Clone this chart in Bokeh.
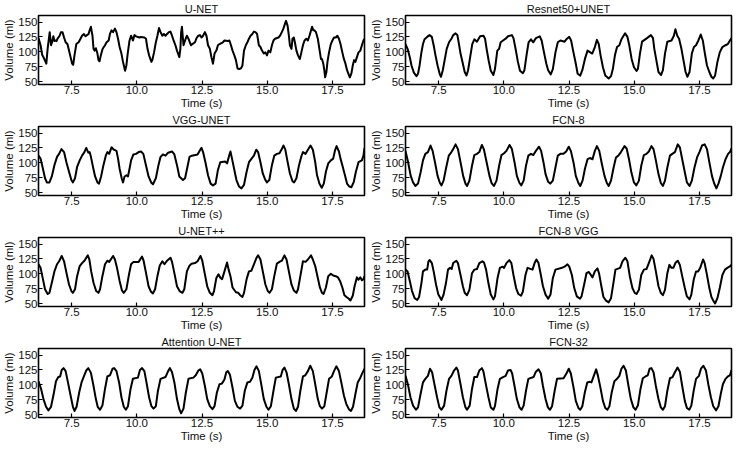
from bokeh.plotting import figure
from bokeh.layouts import gridplot
from bokeh.models import Range1d, FixedTicker, PrintfTickFormatter
from bokeh.embed import file_html
from bokeh.resources import INLINE

# ---------------- data ----------------
titles = ["U-NET", "Resnet50+UNET", "VGG-UNET", "FCN-8",
          "U-NET++", "FCN-8 VGG", "Attention U-NET", "FCN-32"]

x_ticks = [7.5, 10.0, 12.5, 15.0, 17.5]
y_ticks = [50, 75, 100, 125, 150]

unet_t = [6.23,6.31,6.37,6.43,6.50,6.53,6.58,6.66,6.71,6.75,6.80,6.84,6.89,6.92,6.96,7.04,7.09,7.15,7.21,7.27,
          7.34,7.40,7.46,7.52,7.56,7.61,7.68,7.77,7.84,7.90,7.97,8.03,8.09,8.15,8.19,8.24,8.30,8.34,8.38,8.43,
          8.49,8.53,8.57,8.62,8.69,8.78,8.84,8.92,8.97,9.03,9.09,9.16,9.22,9.28,9.34,9.41,9.47,9.55,9.60,9.65,
          9.72,9.78,9.85,9.91,9.97,10.10,10.16,10.29,10.35,10.41,10.47,10.56,10.60,10.66,10.73,10.79,10.85,10.91,10.98,11.04,
          11.10,11.16,11.23,11.29,11.35,11.41,11.48,11.54,11.63,11.67,11.70,11.73,11.79,11.85,11.92,11.98,12.03,12.08,12.13,12.23,
          12.29,12.36,12.42,12.48,12.54,12.61,12.67,12.73,12.80,12.86,12.92,12.98,13.05,13.11,13.17,13.30,13.36,13.49,13.55,13.61,
          13.67,13.74,13.80,13.86,13.93,13.99,14.05,14.11,14.18,14.24,14.30,14.36,14.43,14.49,14.55,14.61,14.68,14.74,14.80,14.87,
          14.93,14.99,15.05,15.12,15.18,15.24,15.30,15.43,15.49,15.56,15.62,15.68,15.72,15.78,15.83,15.87,15.93,15.97,16.02,16.06,
          16.12,16.18,16.25,16.31,16.37,16.43,16.50,16.56,16.62,16.68,16.72,16.77,16.81,16.87,16.94,17.00,17.06,17.10,17.15,17.19,
          17.22,17.27,17.31,17.37,17.44,17.50,17.56,17.63,17.69,17.75,17.81,17.88,17.94,18.00,18.06,18.13,18.17,18.23,18.28,18.33,
          18.38,18.44,18.50,18.57,18.63,18.69,18.73]
unet_v = [123,111,95,90,83,80,105,133,111,116,126,118,119,118,122,127,133,133,124,116,
          113,102,91,80,78,94,113,116,122,127,130,126,128,130,136,142,127,105,102,106,
          97,86,84,94,105,111,116,119,130,136,133,139,133,122,108,97,83,68,77,97,
          119,127,119,128,126,124,125,124,122,105,94,83,87,99,116,127,140,133,127,130,
          127,130,133,134,127,119,111,102,91,105,133,142,111,119,127,122,116,111,113,116,
          123,127,128,124,127,133,127,111,105,91,80,97,102,111,113,116,119,118,119,111,
          102,94,86,72,71,72,77,102,111,116,122,127,130,134,133,130,111,108,102,97,
          99,94,102,99,111,119,122,124,127,133,139,147,152,144,127,111,105,122,124,116,
          102,94,88,99,111,119,122,119,127,136,142,136,136,133,122,105,88,88,80,69,
          57,66,83,99,113,119,124,124,127,122,113,99,88,80,69,61,57,64,77,86,
          83,91,99,102,111,119,122]

resnet_t = [6.23,6.31,6.40,6.46,6.55,6.65,6.71,6.77,6.84,6.90,6.96,7.06,7.15,7.24,7.31,7.38,7.46,7.54,7.59,7.66,
            7.74,7.81,7.90,7.99,8.06,8.15,8.22,8.28,8.34,8.43,8.50,8.57,8.63,8.72,8.79,8.87,8.97,9.09,9.22,9.28,
            9.34,9.42,9.50,9.60,9.66,9.75,9.82,9.88,9.97,10.07,10.16,10.31,10.37,10.45,10.54,10.62,10.73,10.79,10.88,10.95,
            11.04,11.13,11.23,11.38,11.45,11.54,11.63,11.70,11.80,11.88,11.98,12.07,12.17,12.33,12.42,12.51,12.58,12.67,12.76,12.83,
            12.93,13.01,13.11,13.21,13.39,13.49,13.57,13.64,13.71,13.80,13.89,14.02,14.11,14.18,14.26,14.34,14.43,14.51,14.65,14.74,
            14.81,14.90,14.99,15.09,15.14,15.22,15.30,15.49,15.64,15.72,15.77,15.86,15.93,16.03,16.10,16.18,16.27,16.43,16.52,16.58,
            16.65,16.72,16.81,16.90,16.97,17.04,17.12,17.21,17.29,17.37,17.46,17.55,17.63,17.71,17.79,17.88,17.96,18.03,18.10,18.19,
            18.28,18.38,18.50,18.59,18.67,18.73]
resnet_v = [113,105,90,77,65,59,63,77,99,113,121,125,128,125,111,94,77,63,58,69,
            88,105,116,122,128,131,128,113,97,80,66,60,69,94,113,121,117,126,127,122,
            105,85,68,61,71,102,105,116,119,122,126,128,123,105,83,68,64,69,97,116,
            121,116,123,126,119,99,80,69,62,71,99,116,119,117,122,125,119,99,80,63,
            60,69,88,102,97,108,120,113,94,74,60,55,59,71,94,108,111,121,131,125,
            111,88,74,68,71,97,117,123,128,123,105,83,66,61,69,97,117,119,127,138,
            127,122,105,83,66,58,66,97,108,111,119,129,119,97,77,66,58,55,60,83,
            99,108,111,113,119,123]

vgg_t = [6.23,6.31,6.40,6.48,6.55,6.65,6.74,6.84,6.94,7.02,7.11,7.21,7.30,7.40,7.49,7.55,7.63,7.71,7.81,7.90,
         7.99,8.06,8.14,8.19,8.24,8.32,8.40,8.49,8.55,8.63,8.72,8.81,8.87,8.94,9.03,9.12,9.22,9.28,9.34,9.42,
         9.47,9.53,9.60,9.66,9.72,9.78,9.87,9.97,10.07,10.16,10.25,10.35,10.45,10.55,10.62,10.73,10.83,10.91,11.00,11.10,
         11.20,11.35,11.44,11.54,11.63,11.70,11.77,11.85,11.94,12.02,12.11,12.33,12.42,12.48,12.54,12.63,12.73,12.83,12.92,13.02,
         13.11,13.20,13.39,13.46,13.54,13.59,13.65,13.74,13.82,13.92,14.01,14.11,14.21,14.30,14.40,14.49,14.58,14.65,14.74,14.83,
         14.93,14.99,15.08,15.18,15.27,15.37,15.47,15.56,15.62,15.69,15.77,15.87,15.97,16.03,16.12,16.22,16.31,16.37,16.47,16.56,
         16.66,16.75,16.84,16.91,17.00,17.09,17.17,17.25,17.34,17.44,17.53,17.60,17.66,17.75,17.81,17.88,17.98,18.06,18.15,18.23,
         18.32,18.40,18.50,18.63,18.69,18.73]
vgg_v = [112,107,90,74,67,67,77,96,110,115,123,118,101,85,71,67,74,93,104,112,
         118,125,117,118,110,93,77,67,65,77,96,112,118,115,126,122,120,107,90,74,
         67,77,79,77,90,104,114,115,118,119,115,96,77,67,64,74,96,110,114,112,
         117,119,114,96,77,74,71,74,93,110,112,114,121,125,118,101,79,65,62,65,
         88,101,102,99,112,119,107,88,71,60,57,63,85,101,107,112,122,118,101,82,
         71,67,71,96,112,115,116,123,129,123,104,82,69,67,74,96,111,118,115,122,
         129,122,101,79,65,58,65,85,99,104,107,121,128,119,107,96,79,65,60,59,
         68,85,101,104,112,125]

fcn8_t = [6.23,6.33,6.43,6.52,6.61,6.71,6.81,6.90,6.99,7.09,7.19,7.27,7.36,7.46,7.55,7.61,7.69,7.79,7.89,7.99,
          8.06,8.15,8.24,8.34,8.44,8.53,8.59,8.68,8.78,8.87,8.97,9.06,9.16,9.24,9.34,9.45,9.53,9.62,9.72,9.82,
          9.91,10.01,10.10,10.22,10.31,10.41,10.50,10.60,10.67,10.76,10.85,10.94,11.04,11.13,11.23,11.35,11.43,11.52,11.60,11.70,
          11.78,11.88,11.98,12.07,12.17,12.29,12.39,12.49,12.57,12.67,12.76,12.86,12.93,13.02,13.11,13.21,13.30,13.40,13.49,13.57,
          13.66,13.76,13.86,13.95,14.02,14.11,14.21,14.30,14.39,14.49,14.63,14.71,14.80,14.89,14.99,15.08,15.18,15.27,15.37,15.47,
          15.56,15.66,15.74,15.83,15.93,16.02,16.10,16.18,16.27,16.37,16.46,16.56,16.67,16.75,16.84,16.94,17.02,17.12,17.21,17.31,
          17.41,17.50,17.60,17.70,17.79,17.88,17.98,18.06,18.15,18.23,18.32,18.40,18.50,18.60,18.67,18.73]
fcn8_v = [120,101,78,67,61,65,84,104,115,118,129,120,101,78,66,62,70,92,112,118,
          123,131,123,101,78,65,61,70,95,113,115,118,130,122,101,78,66,61,70,95,
          113,116,120,130,123,101,78,66,62,70,95,112,115,113,120,127,120,101,81,68,
          65,70,92,112,115,115,119,127,120,101,78,66,61,70,90,106,108,106,120,128,
          120,98,78,66,61,70,92,109,112,118,128,124,106,84,67,62,70,95,113,115,
          119,128,123,104,81,66,61,70,92,112,115,118,131,126,106,84,67,61,70,92,
          109,118,129,131,123,101,78,66,57,65,78,92,106,115,118,124]

unetpp_t = [6.23,6.31,6.40,6.48,6.58,6.65,6.74,6.84,6.94,7.02,7.12,7.21,7.30,7.40,7.49,7.55,7.63,7.71,7.81,7.90,
            7.99,8.12,8.18,8.25,8.34,8.44,8.53,8.59,8.68,8.78,8.87,8.94,9.09,9.16,9.24,9.34,9.43,9.50,9.60,9.70,
            9.78,9.87,10.07,10.20,10.26,10.35,10.45,10.54,10.62,10.70,10.79,10.88,10.98,11.06,11.16,11.29,11.35,11.45,11.54,11.64,
            11.75,11.82,11.92,12.01,12.10,12.23,12.33,12.44,12.51,12.61,12.70,12.80,12.90,12.96,13.05,13.13,13.21,13.27,13.36,13.46,
            13.52,13.59,13.67,13.80,13.89,13.96,14.05,14.11,14.21,14.30,14.39,14.49,14.58,14.65,14.74,14.83,14.93,15.02,15.09,15.18,
            15.27,15.37,15.47,15.56,15.66,15.74,15.83,15.93,16.02,16.12,16.18,16.27,16.37,16.47,16.56,16.68,16.75,16.84,16.94,17.02,
            17.10,17.16,17.25,17.34,17.44,17.53,17.63,17.71,17.79,17.88,17.96,18.04,18.13,18.19,18.28,18.35,18.44,18.50,18.57,18.63,
            18.69,18.73]
unetpp_v = [116,110,91,74,66,68,85,104,116,121,130,121,102,82,71,68,74,96,113,118,
            122,131,124,104,85,71,68,74,96,116,122,120,130,124,110,88,72,68,74,99,
            116,120,120,129,122,102,79,70,67,74,96,114,121,116,122,127,120,99,79,71,
            68,74,104,113,117,118,121,130,122,99,79,68,64,71,93,99,93,91,104,119,
            107,96,77,69,68,64,61,68,91,104,105,116,126,131,124,104,82,71,68,74,
            96,117,120,122,131,124,104,82,72,68,74,96,121,120,124,131,124,113,93,77,
            68,66,77,96,100,97,96,94,88,77,64,61,58,55,63,79,94,90,94,89,
            91,96]

fcn8vgg_t = [6.23,6.31,6.40,6.48,6.58,6.68,6.75,6.84,6.90,6.99,7.06,7.11,7.16,7.24,7.31,7.40,7.49,7.61,7.69,7.78,
             7.86,7.94,8.00,8.06,8.18,8.24,8.34,8.43,8.50,8.59,8.68,8.78,8.87,8.97,9.06,9.18,9.24,9.32,9.41,9.50,
             9.60,9.66,9.76,9.85,9.95,10.01,10.10,10.21,10.29,10.37,10.47,10.56,10.66,10.73,10.83,10.91,11.10,11.18,11.25,11.33,
             11.42,11.50,11.60,11.70,11.79,11.88,11.98,12.23,12.33,12.44,12.51,12.61,12.70,12.80,12.92,12.98,13.08,13.17,13.26,13.40,
             13.49,13.59,13.65,13.74,13.82,13.92,14.02,14.11,14.20,14.28,14.46,14.55,14.66,14.74,14.83,14.93,15.02,15.09,15.18,15.27,
             15.37,15.47,15.56,15.67,15.74,15.83,15.93,16.02,16.10,16.18,16.27,16.35,16.43,16.50,16.59,16.67,16.75,16.84,16.94,17.02,
             17.12,17.19,17.28,17.37,17.45,17.53,17.64,17.70,17.79,17.88,17.96,18.04,18.10,18.19,18.28,18.38,18.48,18.57,18.65,18.73]
fcn8vgg_v = [107,104,87,71,59,56,61,84,104,107,107,121,123,118,104,82,65,56,65,84,
             107,110,108,118,122,118,98,79,68,64,73,101,107,108,118,121,119,107,84,65,
             57,62,93,110,112,110,118,123,118,98,76,66,63,70,98,110,107,118,124,118,
             98,79,65,58,65,93,107,110,112,116,112,98,76,62,58,62,82,101,103,94,
             104,109,101,79,61,55,52,59,84,107,110,121,127,121,96,76,68,66,73,98,
             107,108,118,131,125,104,79,68,64,73,101,115,110,110,119,122,115,96,76,62,
             57,65,90,104,104,110,124,118,98,76,61,54,50,59,76,98,107,110,112,115]

att_t = [6.23,6.33,6.42,6.52,6.61,6.71,6.81,6.90,6.99,7.06,7.12,7.19,7.27,7.36,7.46,7.55,7.61,7.69,7.79,7.88,
         7.97,8.06,8.14,8.24,8.34,8.43,8.50,8.59,8.68,8.78,8.87,8.97,9.07,9.13,9.22,9.32,9.41,9.50,9.58,9.66,
         9.76,9.85,10.04,10.12,10.20,10.29,10.37,10.47,10.56,10.64,10.73,10.81,10.91,11.10,11.20,11.27,11.35,11.44,11.54,11.63,
         11.70,11.79,11.88,11.98,12.17,12.26,12.36,12.43,12.51,12.61,12.70,12.80,12.90,12.98,13.07,13.17,13.26,13.36,13.43,13.49,
         13.57,13.67,13.76,13.86,13.96,14.05,14.14,14.24,14.34,14.43,14.51,14.59,14.68,14.77,14.87,14.97,15.05,15.14,15.24,15.33,
         15.52,15.59,15.66,15.74,15.83,15.93,16.02,16.10,16.18,16.27,16.37,16.46,16.56,16.65,16.75,16.84,16.94,17.02,17.10,17.19,
         17.28,17.37,17.48,17.56,17.65,17.75,17.84,17.94,18.03,18.13,18.21,18.29,18.38,18.47,18.57,18.65,18.73]
att_v = [106,93,76,63,57,63,84,106,113,114,125,128,123,104,82,63,56,63,87,104,
         114,124,128,120,98,76,63,58,65,93,114,116,127,128,123,104,79,63,58,64,
         93,110,112,125,128,123,104,79,64,60,64,90,110,113,123,128,121,104,76,59,
         52,60,87,110,112,116,124,126,119,98,76,64,59,64,87,101,102,109,121,123,
         117,95,73,63,60,65,90,104,105,112,125,131,123,101,76,63,58,64,90,112,
         114,125,129,121,101,76,60,56,63,90,114,116,123,132,123,101,76,64,60,64,
         87,110,114,123,131,123,104,82,68,59,56,63,84,104,112,120,127]

fcn32_t = [6.23,6.33,6.42,6.52,6.63,6.71,6.81,6.90,6.99,7.09,7.17,7.25,7.34,7.44,7.53,7.61,7.71,7.80,7.90,7.99,
           8.09,8.18,8.24,8.34,8.43,8.53,8.59,8.69,8.78,8.87,8.97,9.06,9.16,9.22,9.31,9.41,9.50,9.60,9.66,9.76,
           9.85,9.97,10.07,10.16,10.26,10.32,10.41,10.50,10.60,10.68,10.76,10.85,10.94,11.14,11.23,11.33,11.42,11.50,11.60,11.69,
           11.77,11.85,11.95,12.04,12.29,12.39,12.49,12.57,12.67,12.76,12.86,12.93,13.01,13.11,13.20,13.30,13.36,13.45,13.54,13.61,
           13.70,13.80,13.89,13.97,14.05,14.14,14.24,14.34,14.43,14.51,14.59,14.68,14.78,14.87,14.97,15.05,15.14,15.24,15.33,15.43,
           15.52,15.59,15.66,15.74,15.83,15.93,16.02,16.10,16.18,16.27,16.37,16.47,16.56,16.66,16.75,16.84,16.94,17.02,17.11,17.19,
           17.28,17.37,17.48,17.56,17.65,17.75,17.84,17.94,18.03,18.14,18.23,18.32,18.40,18.50,18.59,18.67,18.73]
fcn32_v = [115,99,79,65,58,62,85,104,110,115,127,121,101,79,62,58,65,90,110,115,
           124,129,124,101,79,62,58,65,93,113,113,124,128,122,101,79,62,58,64,93,
           110,113,115,124,125,119,98,76,62,58,65,90,110,113,122,126,119,98,76,62,
           58,64,90,110,111,118,127,119,96,73,61,58,64,88,104,105,104,115,126,115,
           96,73,61,58,64,88,106,110,115,127,132,124,98,76,62,58,65,93,111,114,
           116,127,128,121,98,76,62,58,64,90,111,113,121,129,122,98,73,61,58,65,
           90,110,115,127,132,124,101,79,64,57,64,85,101,110,114,116,125]

series = [(unet_t, unet_v), (resnet_t, resnet_v), (vgg_t, vgg_v), (fcn8_t, fcn8_v),
          (unetpp_t, unetpp_v), (fcn8vgg_t, fcn8vgg_v), (att_t, att_v), (fcn32_t, fcn32_v)]

# ---------------- styling ----------------
FONT = "Liberation Sans"
TXT = "#111111"


def make_panel(title, t, v):
    n = min(len(t), len(v))
    p = figure(frame_width=326, frame_height=69, output_backend="svg",
               toolbar_location=None, title=title,
               x_range=Range1d(6.23, 18.73), y_range=Range1d(45, 161),
               min_border_left=0, min_border_right=3, min_border_top=0, min_border_bottom=0)
    p.line(t[:n], v[:n], line_color="black", line_width=2.0, line_join="round")

    p.title.align = "center"
    p.title.text_font = FONT
    p.title.text_font_size = "11px"
    p.title.text_font_style = "normal"
    p.title.text_color = TXT
    p.title.standoff = 1

    p.xgrid.visible = False
    p.ygrid.visible = False
    p.outline_line_color = "black"
    p.outline_line_width = 1.6
    p.outline_line_alpha = 1.0
    p.background_fill_color = "white"
    p.border_fill_color = "white"

    p.xaxis.ticker = FixedTicker(ticks=x_ticks)
    p.xaxis.formatter = PrintfTickFormatter(format="%.1f")
    p.yaxis.ticker = FixedTicker(ticks=y_ticks)
    p.xaxis.axis_label = "Time (s)"
    p.yaxis.axis_label = "Volume (ml)"
    for ax in (p.xaxis, p.yaxis):
        ax.axis_line_color = None
        ax.major_tick_in = 4
        ax.major_tick_out = 0
        ax.minor_tick_in = 0
        ax.minor_tick_out = 0
        ax.major_tick_line_color = "black"
        ax.major_tick_line_width = 1.2
        ax.major_label_text_font = FONT
        ax.major_label_text_font_size = "11.5px"
        ax.major_label_text_color = TXT
        ax.axis_label_text_font = FONT
        ax.axis_label_text_font_size = "11.5px"
        ax.axis_label_text_font_style = "normal"
        ax.axis_label_text_color = TXT
        ax.major_label_standoff = 1
        ax.axis_label_standoff = 0
    return p


panels = [make_panel(titles[i], series[i][0], series[i][1]) for i in range(8)]
grid = gridplot([[panels[0], panels[1]], [panels[2], panels[3]],
                 [panels[4], panels[5]], [panels[6], panels[7]]],
                toolbar_location=None)

open("out.html", "w").write(file_html(grid, INLINE))
